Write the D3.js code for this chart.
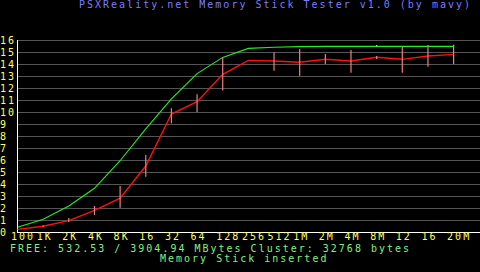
<!DOCTYPE html>
<html><head><meta charset="utf-8">
<script src="https://cdn.jsdelivr.net/npm/d3@7"></script>
<style>
html,body{margin:0;padding:0;background:#000;overflow:hidden}
svg{display:block}
text{font-family:"DejaVu Sans Mono",monospace;font-size:10px;letter-spacing:2px}
</style></head>
<body>
<script>
// ---- data ----
const categories = ["100","1K","2K","4K","8K","16","32","64","128","256","512","1M","2M","4M","8M","12","16","20M"];
const yTicks = [0,1,2,3,4,5,6,7,8,9,10,11,12,13,14,15,16];
const readSpeed = [0.22,0.48,0.95,1.8,2.82,5.5,9.83,10.86,13.14,14.3,14.25,14.14,14.39,14.25,14.56,14.39,14.67,14.8];
const readLow   = [0.22,0.44,0.83,1.42,2.03,4.6,9.06,10.0,11.79,14.3,13.44,13.03,14.0,13.27,14.42,13.27,13.78,14.0];
const readHigh  = [0.22,0.56,1.17,2.17,3.83,6.42,10.31,11.47,14.54,14.3,14.97,15.25,14.83,15.17,14.67,15.44,15.58,15.58];
const maxSpeed  = [0.4,1.06,2.17,3.64,5.94,8.6,11.1,13.2,14.55,15.3,15.4,15.45,15.47,15.47,15.47,15.47,15.47,15.47];
const maxLow    = [0.4,1.06,2.17,3.64,5.94,8.6,11.1,13.2,14.55,15.3,15.4,15.45,15.47,15.47,15.47,15.47,15.47,15.47];
const maxHigh   = [0.4,1.06,2.17,3.64,5.94,8.6,11.1,13.2,14.55,15.3,15.4,15.45,15.47,15.47,15.58,15.47,15.47,15.6];
const title = "PSXReality.net Memory Stick Tester v1.0 (by mavy)";
const freeLine = "FREE: 532.53 / 3904.94 MBytes Cluster: 32768 bytes";
const statusLine = "Memory Stick inserted";

// ---- layout ----
const W = 480, H = 272;
const svg = d3.select("body").append("svg").attr("width", W).attr("height", H);
svg.append("rect").attr("width", W).attr("height", H).attr("fill", "#000");

const idx = d3.range(categories.length);
const x = d3.scaleLinear().domain([0, categories.length - 1]).range([17.5, 453.6]);
const y = d3.scaleLinear().domain([0, 16]).range([232, 40]);

const YELLOW = "#ffff60", GRID = "#555555";

// gridlines + y labels
const yAxis = d3.axisLeft(y).tickValues(yTicks).tickSize(-(W - 17)).tickFormat(d3.format("d"));
const gy = svg.append("g").attr("transform", "translate(17,0)").call(yAxis);
gy.select(".domain").remove();
gy.selectAll(".tick line").attr("stroke", GRID).attr("shape-rendering", "crispEdges")
  .filter(d => d === 0).remove();
gy.selectAll(".tick text").attr("x", -17).attr("dy", "0.3em").attr("text-anchor", "start")
  .attr("fill", YELLOW).style("font-family", "DejaVu Sans Mono").style("font-size", "10px");

// axes lines (white)
svg.append("line").attr("x1", 17).attr("x2", W).attr("y1", y(0)).attr("y2", y(0))
  .attr("stroke", "#fff").attr("shape-rendering", "crispEdges");
svg.append("line").attr("x1", 17.5).attr("x2", 17.5).attr("y1", y(16)).attr("y2", y(0))
  .attr("stroke", "#fff").attr("shape-rendering", "crispEdges");

// x labels
const xAxis = d3.axisBottom(x).tickValues(idx).tickSize(0).tickFormat(i => categories[i]);
const gx = svg.append("g").attr("transform", `translate(0,${y(0)})`).call(xAxis);
gx.select(".domain").remove();
gx.selectAll(".tick text").attr("text-anchor", "start").attr("x", -7).attr("y", 8).attr("dy", 0)
  .attr("fill", YELLOW).style("font-family", "DejaVu Sans Mono").style("font-size", "10px");

// lines
svg.append("path").datum(idx).attr("fill", "none").attr("stroke", "#22ee22").attr("stroke-width", 1.1)
  .attr("d", d3.line().x(i => x(i)).y(i => y(maxSpeed[i])));
svg.append("path").datum(idx).attr("fill", "none").attr("stroke", "#ff1010").attr("stroke-width", 1.4)
  .attr("d", d3.line().x(i => x(i)).y(i => y(readSpeed[i])));

// error bars
svg.append("g").selectAll("line").data(idx.filter(i => maxHigh[i] > maxLow[i])).join("line")
  .attr("x1", i => x(i)).attr("x2", i => x(i))
  .attr("y1", i => y(maxLow[i])).attr("y2", i => y(maxHigh[i]))
  .attr("stroke", "#80ff80").attr("stroke-width", 1.2);
svg.append("g").selectAll("line").data(idx.filter(i => readHigh[i] > readLow[i])).join("line")
  .attr("x1", i => x(i)).attr("x2", i => x(i))
  .attr("y1", i => y(readLow[i])).attr("y2", i => y(readHigh[i]))
  .attr("stroke", "#f08080").attr("stroke-width", 1.2);

// texts
svg.append("text").attr("x", 79).attr("y", 8).attr("fill", "#7c7cff").text(title);
svg.append("text").attr("x", 10).attr("y", 252).attr("fill", "#80f080").text(freeLine);
svg.append("text").attr("x", 160).attr("y", 262).attr("fill", "#80f080").text(statusLine);
</script>
</body></html>
